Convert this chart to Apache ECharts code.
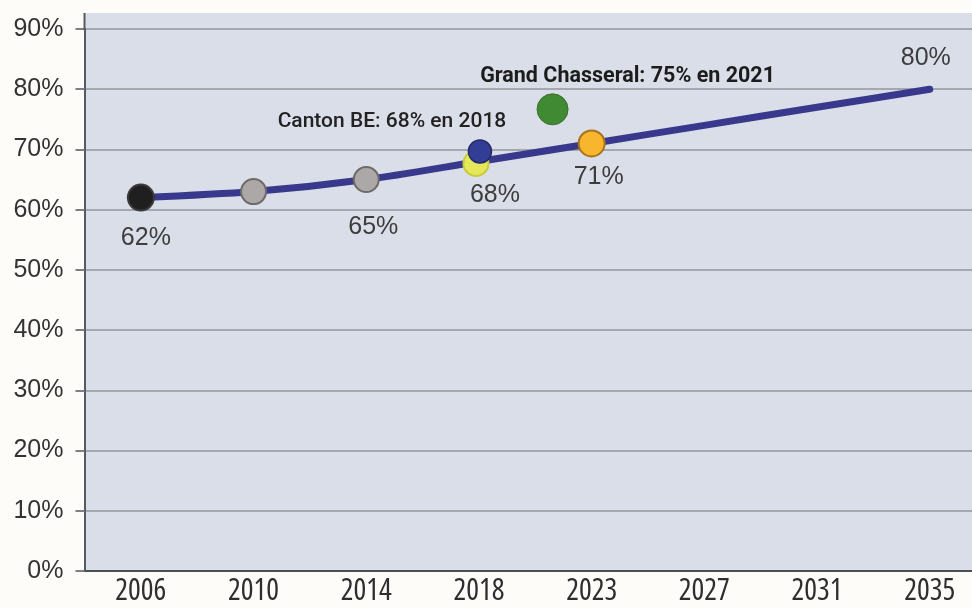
<!DOCTYPE html>
<html>
<head>
<meta charset="utf-8">
<script src="https://cdn.jsdelivr.net/npm/echarts@6/dist/echarts.min.js"></script>
<style>
  html, body { margin: 0; padding: 0; background: #fdfcf9; }
  #chart { width: 972px; height: 608px; }
</style>
</head>
<body>
<div id="chart"></div>
<script>
// Axis categories (survey / target years)
const years = ['2006', '2010', '2014', '2018', '2023', '2027', '2031', '2035'];
// Trajectory towards the 2035 target (%)
const trajectory = [62, 63, 65, 68, 71, 74, 77, 80];
// Measured points on the trajectory (%)
const measuredYears = ['2006', '2010', '2014', '2018', '2023'];
const measured = [62, 63, 65, 68, 71];
// Reference values
const cantonYear = 2018;
const cantonValue = 68;
const chasseralYear = 2021;
const chasseralValue = 75;
// Y axis ticks (%)
const yMin = 0, yMax = 90, yStep = 10;

// Marker look for each measured point
const markerStyles = [
  { color: '#1f1f1f', borderColor: '#3a3a3a', size: 26, label: [5, 40] },
  { color: '#aba8a7', borderColor: '#6e6a69', size: 25, label: null },
  { color: '#aba8a7', borderColor: '#6e6a69', size: 25, label: [7, 48] },
  { color: '#e4e85a', borderColor: '#c9cc3c', size: 25, label: [19, 32], offset: [-3, 2] },
  { color: '#f8b52e', borderColor: '#a8731a', size: 26, label: [7, 34] }
];

// Fractional position of a year between two neighbouring categories
function yearToIndex(y) {
  const nums = years.map(Number);
  for (let i = 0; i < nums.length - 1; i++) {
    if (y >= nums[i] && y <= nums[i + 1]) {
      return i + (y - nums[i]) / (nums[i + 1] - nums[i]);
    }
  }
  return nums.indexOf(y);
}

const chart = echarts.init(document.getElementById('chart'), null, { renderer: 'canvas' });

const labelFont = {
  fontFamily: 'Liberation Sans, Arial, sans-serif',
  fontSize: 25,
  color: '#3d3d3d'
};

const lastIdx = trajectory.length - 1;

const option = {
  backgroundColor: '#fdfcf9',
  animation: false,
  grid: {
    left: 84.5, width: 901.6, top: 29, bottom: 37,
    containLabel: false, outerBoundsMode: 'none'
  },
  graphic: [
    {
      type: 'rect', z: -100, silent: true,
      shape: { x: 84, y: 13, width: 888, height: 558 },
      style: { fill: '#dadee8' }
    },
    {
      type: 'line', z: 10, silent: true,
      shape: { x1: 84.5, y1: 13, x2: 84.5, y2: 30 },
      style: { stroke: '#555a60', lineWidth: 2 }
    }
  ],
  xAxis: [
    {
      type: 'category',
      data: years,
      boundaryGap: true,
      axisLine: { lineStyle: { color: '#4d4f53', width: 2 } },
      axisTick: { alignWithLabel: true, inside: true, length: 6, lineStyle: { color: '#3b3b3b', width: 2 } },
      axisLabel: {
        margin: 5,
        fontFamily: 'Open Sans, sans-serif',
        fontWeight: 'condensed',
        fontSize: 30,
        color: '#2e2e2e'
      },
      splitLine: { show: false }
    },
    {
      type: 'value', min: -0.5, max: years.length - 0.5, show: false
    }
  ],
  yAxis: {
    type: 'value',
    min: yMin, max: yMax, interval: yStep,
    axisLine: { show: true, onZero: false, lineStyle: { color: '#555a60', width: 2 } },
    axisTick: { show: true, length: 9, lineStyle: { color: '#7c7f85', width: 2 } },
    axisLabel: {
      margin: 21,
      formatter: '{value}%',
      fontFamily: 'Liberation Sans, Arial, sans-serif',
      fontSize: 25,
      color: '#333333'
    },
    splitLine: { lineStyle: { color: '#a5a8ae', width: 2 } }
  },
  series: [
    {
      name: 'Trajectoire',
      type: 'line',
      data: trajectory,
      smooth: 0.3,
      symbol: 'none',
      z: 3,
      lineStyle: { color: '#38398c', width: 7, cap: 'round', join: 'round' }
    },
    {
      // Invisible anchor carrying the target value label at the end of the line
      name: 'Objectif',
      type: 'scatter',
      z: 3,
      silent: true,
      data: [{
        value: [years[lastIdx], trajectory[lastIdx]],
        symbolSize: 2,
        itemStyle: { color: 'rgba(0,0,0,0)', opacity: 1 },
        label: {
          show: true, position: 'inside', offset: [-4, -31],
          formatter: trajectory[lastIdx] + '%', ...labelFont
        }
      }]
    },
    {
      name: 'Mesures',
      type: 'scatter',
      z: 4,
      data: measured.map((v, i) => {
        const s = markerStyles[i];
        return {
          value: [measuredYears[i], v],
          symbolSize: s.size,
          symbolOffset: s.offset || [0, 0],
          itemStyle: { color: s.color, borderColor: s.borderColor, borderWidth: 2, opacity: 1 },
          label: s.label ? {
            show: true, position: 'inside', offset: s.label,
            formatter: v + '%', ...labelFont
          } : { show: false }
        };
      })
    },
    {
      name: 'Canton BE',
      type: 'scatter',
      z: 5,
      data: [{
        value: [String(cantonYear), cantonValue],
        symbolSize: 23,
        symbolOffset: [1, -10],
        itemStyle: { color: '#323e96', borderColor: '#232a66', borderWidth: 1.5, opacity: 1 },
        label: {
          show: true, position: 'inside', offset: [-88, -30],
          formatter: 'Canton BE: ' + cantonValue + '% en ' + cantonYear,
          fontFamily: 'Roboto, sans-serif', fontWeight: 500, fontSize: 21, color: '#222222'
        }
      }]
    },
    {
      name: 'Grand Chasseral',
      type: 'scatter',
      xAxisIndex: 1,
      z: 5,
      data: [{
        value: [yearToIndex(chasseralYear), chasseralValue],
        symbolSize: 31,
        symbolOffset: [6, -10],
        itemStyle: { color: '#3f8a32', borderColor: '#3a6d2f', borderWidth: 1, opacity: 1 },
        label: {
          show: true, position: 'inside', offset: [75, -33],
          formatter: 'Grand Chasseral: ' + chasseralValue + '% en ' + chasseralYear,
          fontFamily: 'Roboto, sans-serif', fontWeight: 'bold', fontSize: 21.5, color: '#1c1c1c'
        }
      }]
    }
  ]
};

chart.setOption(option);
</script>
</body>
</html>
